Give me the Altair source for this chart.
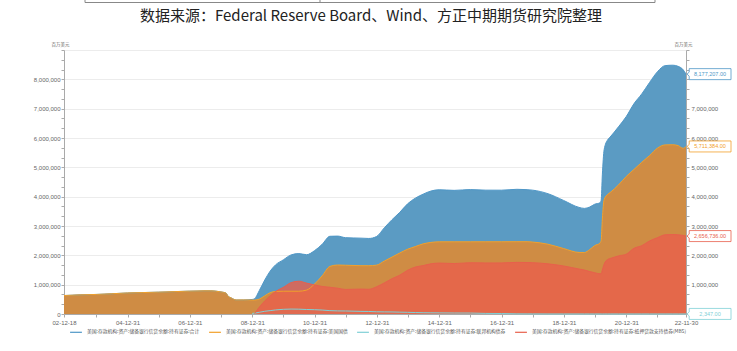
import altair as alt
import pandas as pd

dates = ["2002-12-18","2003-06-25","2003-12-31","2004-06-30","2004-12-29","2005-06-29","2005-12-28",
         "2006-06-28","2006-12-27","2007-06-27","2007-08-29","2007-12-26","2008-02-27","2008-03-26",
         "2008-04-30","2008-06-25","2008-09-24","2008-12-31","2009-01-28","2009-03-25","2009-05-27",
         "2009-07-29","2009-09-30","2009-12-30","2010-03-31","2010-06-30","2010-09-29","2010-12-29",
         "2011-03-30","2011-06-29","2011-09-28","2011-12-28","2012-06-27","2012-09-26","2012-12-26",
         "2013-03-27","2013-06-26","2013-09-25","2013-12-25","2014-03-26","2014-06-25","2014-09-24",
         "2014-12-31","2015-06-24","2015-12-30","2016-06-29","2016-12-28","2017-06-28","2017-10-25",
         "2017-12-27","2018-06-27","2018-12-26","2019-06-26","2019-08-28","2019-10-30","2019-12-25",
         "2020-02-26","2020-03-11","2020-03-25","2020-04-15","2020-05-27","2020-06-24","2020-09-30",
         "2020-12-30","2021-03-31","2021-06-30","2021-09-29","2021-12-29","2022-03-30","2022-06-29",
         "2022-08-31","2022-10-26","2022-11-30"]

treasury = [629400,652300,666700,690200,717800,730400,744200,
            762100,778900,790500,790800,754600,713400,600000,
            548000,478800,479800,475900,474600,509000,620000,
            728000,770000,776600,777000,777000,815000,1016000,
            1300000,1623000,1670000,1663000,1647000,1646000,1666000,
            1804000,1941000,2080000,2208000,2300000,2391000,2440000,
            2461000,2461000,2461000,2462000,2463000,2465000,2465000,
            2454000,2379000,2233000,2099000,2097000,2200000,2329000,
            2420000,2500000,3240000,3900000,4080000,4140000,4400000,
            4689000,4930000,5172000,5400000,5652000,5765000,5770000,
            5740000,5650000,5711384]

total = [629400,652300,666700,690200,717800,730400,744200,
         762100,778900,790500,790800,754600,713400,600000,
         548000,478800,479800,495600,523000,804000,1158000,
         1461000,1674000,1844800,2014000,2060000,2021000,2155000,
         2375000,2649000,2656000,2603000,2586000,2575000,2640000,
         2936000,3216000,3467000,3755000,3950000,4085000,4191000,
         4236000,4215000,4241000,4222000,4221000,4251000,4239000,
         4223000,4101000,3873000,3634000,3600000,3648000,3740000,
         3792000,3874000,4742000,5602000,5942000,6032000,6382000,
         6731000,7172000,7504000,7892000,8254000,8467000,8482000,
         8442000,8332000,8177207]

agency = [None]*17 + [19700,30000,59000,93000,
          115000,139000,159900,168000,165000,153000,147000,
          135000,115000,106000,103000,89000,86000,76000,
          72000,70000,63000,57000,50000,44000,41000,
          38700,33700,32900,20000,16500,6000,4400,
          4400,2400,2400,2347,2347,2347,2347,
          2347,2347,2347,2347,2347,2347,2347,
          2347,2347,2347,2347,2347,2347,2347,
          2347,2347,2347]

mbs = [None]*18 + [19000,236000,445000,
       618000,765000,908300,1069000,1118000,1053000,992000,
       940000,911000,880000,837000,850000,843000,927000,
       1060000,1205000,1324000,1490000,1600000,1650000,1710000,
       1736000,1720000,1747000,1740000,1741000,1760000,1755000,
       1750000,1710000,1638000,1533000,1500000,1446000,1409000,
       1370000,1372000,1500000,1700000,1860000,1890000,1980000,
       2040000,2240000,2330000,2490000,2600000,2700000,2710000,
       2700000,2680000,2656736]

series_names = [
    "美国:存款机构:资产:储备银行信贷余额:持有证券:合计",
    "美国:存款机构:资产:储备银行信贷余额:持有证券:美国国债",
    "美国:存款机构:资产:储备银行信贷余额:持有证券:联邦机构债券",
    "美国:存款机构:资产:储备银行信贷余额:持有证券:抵押贷款支持债券(MBS)",
]
line_colors = ["#4f97c7", "#f2a02a", "#7fd0d6", "#e8604c"]
area_colors = ["#5b9bc3", "#d68b3d", "#7fd0d6", "#e8604c"]
area_opacity = [1.0, 0.95, 0.25, 0.82]

source_text = "数据来源：Federal Reserve Board、Wind、方正中期期货研究院整理"
unit_text = "百万美元"

assert len(dates) == len(treasury) == len(total) == len(agency) == len(mbs)

rows = []
for name, vals in zip(series_names, [total, treasury, agency, mbs]):
    for d, v in zip(dates, vals):
        if v is not None:
            rows.append({"date": d, "series": name, "value": v})
df = pd.DataFrame(rows)

last = df.groupby("series", sort=False).tail(1).reset_index(drop=True)

x_ticks = [alt.DateTime(year=2002, month=12, date=18, utc=True)] + \
          [alt.DateTime(year=y, month=12, date=31, utc=True) for y in range(2003, 2022)] + \
          [alt.DateTime(year=2022, month=11, date=30, utc=True)]

xscale = alt.Scale(type="utc", domain=[alt.DateTime(year=2002, month=12, date=18, utc=True),
                                       alt.DateTime(year=2022, month=11, date=30, utc=True)], nice=False)
yscale = alt.Scale(domain=[0, 9000000], nice=False, zero=True)
y_ticks = [k * 1000000 / 3 for k in range(0, 28)]

x_enc = alt.X("date:T", scale=xscale, title=None,
              axis=alt.Axis(values=x_ticks, labelExpr="utcyear(datum.value) % 2 == 1 ? '' : utcFormat(datum.value, '%y-%m-%d')",
                            labelFont="Liberation Sans", labelFontSize=6, labelColor="#666",
                            labelFlush=False, labelOverlap=False, labelPadding=2,
                            domainColor="#aaa", tickColor="#aaa", tickSize=3, grid=False))

left_expr = "(datum.value % 1000000 == 0 && datum.value <= 8000000) ? format(datum.value, ',') : ''"
right_expr = "(datum.value % 1000000 == 0 && datum.value > 0 && datum.value <= 7000000) ? format(datum.value, ',') : ''"
left_axis = alt.Axis(values=y_ticks, labelExpr=left_expr, orient="left",
                     labelFont="Liberation Sans", labelFontSize=6, labelColor="#666",
                     labelOverlap=False, labelPadding=1, tickSize=3, tickColor="#aaa",
                     domainColor="#aaa", grid=True, gridColor="#ececec",
                     gridOpacity={"condition": {"test": "datum.value % 1000000 == 0 && datum.value > 0", "value": 1}, "value": 0},
                     title=unit_text, titleAngle=0, titleFont="Noto Sans CJK SC", titleFontSize=4.5,
                     titleFontWeight="normal", titleColor="#666", titleX=-4, titleY=-4,
                     titleAlign="center", titleBaseline="bottom")
right_axis = alt.Axis(values=y_ticks, labelExpr=right_expr, orient="right",
                      labelFont="Liberation Sans", labelFontSize=6, labelColor="#666",
                      labelOverlap=False, labelPadding=2, tickSize=3, tickColor="#aaa",
                      domainColor="#aaa", grid=False,
                      title=unit_text, titleAngle=0, titleFont="Noto Sans CJK SC", titleFontSize=4.5,
                      titleFontWeight="normal", titleColor="#666", titleX=-3, titleY=-4,
                      titleAlign="center", titleBaseline="bottom")

y_left = alt.Y("value:Q", scale=yscale, axis=left_axis)
y_right = alt.Y("value:Q", scale=yscale, axis=right_axis)

base = alt.Chart(df)

areas = []
lines = []
for name, ac, op in zip(series_names, area_colors, area_opacity):
    areas.append(base.transform_filter(alt.datum.series == name)
                 .mark_area(color=ac, opacity=op, interpolate="monotone")
                 .encode(x=x_enc, y=y_left))
color_scale = alt.Scale(domain=series_names, range=line_colors)
legend = alt.Legend(orient="none", legendX=5, legendY=275, direction="horizontal", title=None,
                    symbolType="stroke", symbolSize=140, symbolStrokeWidth=1.2,
                    labelFont="Noto Sans CJK SC", labelFontSize=4.8, labelColor="#555",
                    labelLimit=400, columnPadding=6, labelOffset=4)
for name in series_names:
    lines.append(base.transform_filter(alt.datum.series == name)
                 .mark_line(strokeWidth=1, interpolate="monotone")
                 .encode(x=x_enc, y=y_left,
                         color=alt.Color("series:N", scale=color_scale, legend=legend)))

left_group = alt.layer(*areas, *lines)

box_path = "M-0.9,-0.25L1,-0.25L1,0.25L-0.9,0.25L-0.9,0.09L-1,0L-0.9,-0.09Z"
boxes = alt.Chart(last).mark_point(shape=box_path, size=1936, filled=True, fill="white",
                                   strokeWidth=0.8, opacity=1, xOffset=23).encode(
    x=x_enc, y=y_right,
    stroke=alt.Stroke("series:N", scale=color_scale, legend=None))
box_text = alt.Chart(last).mark_text(font="Liberation Sans", fontSize=5.5, xOffset=24, align="center",
                                     baseline="middle").encode(
    x=x_enc, y=y_right, text=alt.Text("value:Q", format=",.2f"),
    fill=alt.Fill("series:N", scale=color_scale, legend=None))
right_group = alt.layer(boxes, box_text)

one = alt.Data(values=[{"k": 1}])
deco = alt.layer(
    alt.Chart(one).mark_rule(color="#888", strokeWidth=1).encode(x=alt.value(21), x2=alt.value(591), y=alt.value(-47.5)),
    alt.Chart(one).mark_rule(color="#888", strokeWidth=1).encode(x=alt.value(21), y=alt.value(-51), y2=alt.value(-47.5)),
    alt.Chart(one).mark_rule(color="#888", strokeWidth=1).encode(x=alt.value(256), y=alt.value(-51), y2=alt.value(-47.5)),
    alt.Chart(one).mark_rule(color="#888", strokeWidth=1).encode(x=alt.value(591), y=alt.value(-51), y2=alt.value(-47.5)),
)

chart = alt.layer(left_group, right_group, deco).resolve_axis(y="independent").properties(
    width=622, height=264,
    autosize=alt.AutoSizeParams(type="none"),
    padding={"left": 64, "top": 50, "right": 51, "bottom": 37},
    background="white",
    title=alt.TitleParams(text=source_text, fontSize=15, font="Noto Sans CJK SC", color="#222",
                          fontWeight="normal", anchor="middle", frame="group", offset=-25, dx=-4),
).configure_view(stroke=None)

chart.save("out.html", embed_options={"renderer": "svg", "actions": False})
